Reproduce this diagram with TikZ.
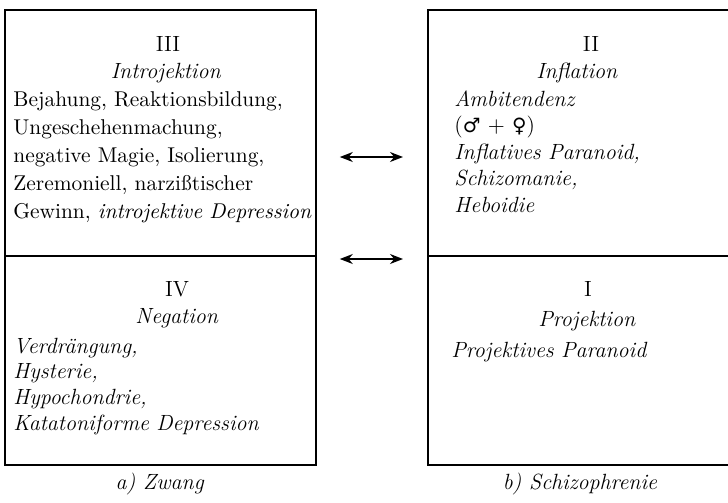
\documentclass[tikz,border=0pt]{standalone}
\usepackage{fontspec}
\newfontfamily\signfont[Scale=0.9]{DejaVu Sans}
\usetikzlibrary{arrows.meta}

\begin{document}
\begin{tikzpicture}[x=0.5pt, y=-0.5pt,
    quad/.style={draw, line width=0.9pt, inner sep=0pt, anchor=north west},
    heading/.style={anchor=base, inner sep=0pt, font=\fontsize{11}{14}\selectfont},
    entries/.style={anchor=base west, inner sep=0pt, align=left, text width=170pt},
    link/.style={{Stealth[length=6.5pt,width=5pt]}-{Stealth[length=6.5pt,width=5pt]}, line width=0.7pt}]
    \clip (0,0) rectangle (728,503);
    % a) Zwang
    \node[quad, minimum width=155.5pt, minimum height=123pt] (q3) at (4,9) {};
    \node[quad, minimum width=155.5pt, minimum height=104.5pt] (q4) at (4,255) {};
    \node[heading] (n3) at (168,51) {III};
    \node[heading] (t3) at (166,78) {\textit{Introjektion}};
    \node[entries, font=\fontsize{10.7}{14}\selectfont] (l3) at (13,106)
        {Bejahung, Reaktionsbildung,\\ Ungeschehenmachung,\\ negative Magie, Isolierung,\\ Zeremoniell, narzißtischer\\ Gewinn, \textit{introjektive Depression}};
    \node[heading] (n4) at (177,296) {IV};
    \node[heading] (t4) at (177,323) {\textit{Negation}};
    \node[entries, font=\fontsize{11}{12.85}\selectfont\itshape] (l4) at (13,353)
        {Verdrängung,\\ Hysterie,\\ Hypochondrie,\\ Katatoniforme Depression};
    \node[heading] (ca) at (160,489) {\textit{a) Zwang}};
    % b) Schizophrenie
    \node[quad, minimum width=156.5pt, minimum height=123pt] (q2) at (427,9) {};
    \node[quad, minimum width=156.5pt, minimum height=104.5pt] (q1) at (427,255) {};
    \node[heading] (n2) at (591,51) {II};
    \node[heading] (t2) at (577,78) {\textit{Inflation}};
    \node[entries, font=\fontsize{11}{13.25}\selectfont] (l2) at (454,106)
        {\textit{Ambitendenz}\\ ({\signfont ♂} $+$ {\signfont ♀})\\ \textit{Inflatives Paranoid,}\\ \textit{Schizomanie,}\\ \textit{Heboidie}};
    \node[heading] (n1) at (588,296) {I};
    \node[heading] (t1) at (587,326) {\textit{Projektion}};
    \node[entries, font=\fontsize{11}{14}\selectfont\itshape] (l1) at (451,357) {Projektives Paranoid};
    \node[heading] (cb) at (580,489) {\textit{b) Schizophrenie}};
    % Arrows
    \coordinate (upper) at (0,157);
    \coordinate (lower) at (0,259);
    \draw[link, shorten <=11.5pt, shorten >=12pt] (q3.east |- upper) -- (q2.west |- upper);
    \draw[link, shorten <=11.5pt, shorten >=12pt] (q4.north east |- lower) -- (q1.north west |- lower);
\end{tikzpicture}
\end{document}
